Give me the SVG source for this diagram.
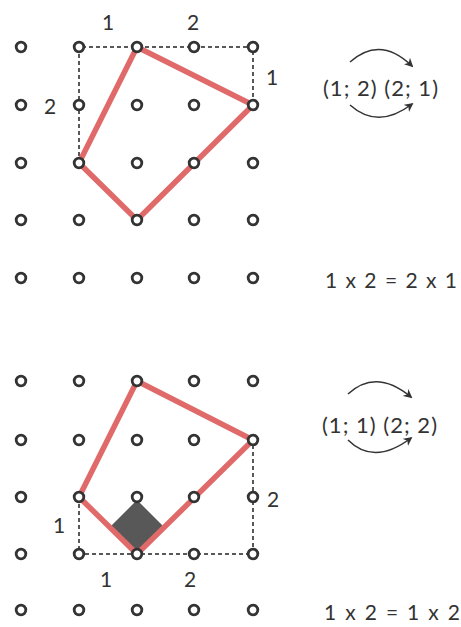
<svg xmlns="http://www.w3.org/2000/svg" width="461" height="627" viewBox="0 0 461 627">
<defs>
<style>
.dot{fill:#fff;stroke:#333;stroke-width:2.8}
.poly{fill:none;stroke:#e06a6a;stroke-width:5.5;stroke-linejoin:round;stroke-linecap:round}
.dash{fill:none;stroke:#222;stroke-width:1.5;stroke-dasharray:4 3}
.lbl{font-family:"Lato","Open Sans","Liberation Sans",sans-serif;font-size:21px;fill:#333}
.pair{font-family:"Lato","Open Sans","Liberation Sans",sans-serif;font-size:22px;fill:#333}
.eq{font-family:"Lato","Open Sans","Liberation Sans",sans-serif;font-size:21px;fill:#333}
.arc{fill:none;stroke:#333;stroke-width:1.5}
</style>
<marker id="ah" viewBox="0 0 10 10" refX="8" refY="5" markerWidth="9" markerHeight="9" markerUnits="userSpaceOnUse" orient="auto">
<path d="M0,0 L10,5 L0,10 L3,5 z" fill="#333"/>
</marker>
<circle id="d" r="4.8" class="dot"/>
</defs>
<rect width="461" height="627" fill="#fff"/>

<g id="top-figure">
<g id="top-dashed" class="connectors">
<path class="dash" d="M79,163 V47 H253 V105"/>
</g>
<g id="top-polygon">
<path class="poly" d="M137,47 L253,105 L137,220 L79,163 Z"/>
</g>
<g id="top-grid">
<use href="#d" x="21" y="47"/><use href="#d" x="79" y="47"/><use href="#d" x="137" y="47"/><use href="#d" x="194" y="47"/><use href="#d" x="253" y="47"/>
<use href="#d" x="21" y="105"/><use href="#d" x="79" y="105"/><use href="#d" x="137" y="105"/><use href="#d" x="194" y="105"/><use href="#d" x="253" y="105"/>
<use href="#d" x="21" y="163"/><use href="#d" x="79" y="163"/><use href="#d" x="137" y="163"/><use href="#d" x="194" y="163"/><use href="#d" x="253" y="163"/>
<use href="#d" x="21" y="220"/><use href="#d" x="79" y="220"/><use href="#d" x="137" y="220"/><use href="#d" x="194" y="220"/><use href="#d" x="253" y="220"/>
<use href="#d" x="21" y="278"/><use href="#d" x="79" y="278"/><use href="#d" x="137" y="278"/><use href="#d" x="194" y="278"/><use href="#d" x="253" y="278"/>
</g>
<g id="top-labels" class="lbl">
<text x="108" y="30" text-anchor="middle">1</text>
<text x="193" y="30" text-anchor="middle">2</text>
<text x="272" y="85" text-anchor="middle">1</text>
<text x="50" y="114" text-anchor="middle">2</text>
</g>
</g>

<g id="top-pairs">
<path class="arc" d="M350,62 Q380,35 412,66" marker-end="url(#ah)"/>
<path class="arc" d="M350,105 Q378,130 412,104" marker-end="url(#ah)"/>
<text class="pair" x="323" y="96" textLength="115" lengthAdjust="spacing">(1; 2) (2; 1)</text>
</g>
<g id="top-equation">
<text class="eq" x="325" y="288" textLength="132" lengthAdjust="spacing">1 x 2 = 2 x 1</text>
</g>

<g id="bottom-figure">
<g id="bottom-square">
<path d="M137,500 L163,526 L137,553 L111,526 Z" fill="#585858"/>
</g>
<g id="bottom-dashed" class="connectors">
<path class="dash" d="M79,497 V554 H253 V440"/>
</g>
<g id="bottom-polygon">
<path class="poly" d="M137,381 L253,440 L137,554 L79,497 Z"/>
</g>
<g id="bottom-grid">
<use href="#d" x="21" y="381"/><use href="#d" x="79" y="381"/><use href="#d" x="137" y="381"/><use href="#d" x="194" y="381"/><use href="#d" x="253" y="381"/>
<use href="#d" x="21" y="440"/><use href="#d" x="79" y="440"/><use href="#d" x="137" y="440"/><use href="#d" x="194" y="440"/><use href="#d" x="253" y="440"/>
<use href="#d" x="21" y="497"/><use href="#d" x="79" y="497"/><use href="#d" x="137" y="497"/><use href="#d" x="194" y="497"/><use href="#d" x="253" y="497"/>
<use href="#d" x="21" y="554"/><use href="#d" x="79" y="554"/><use href="#d" x="137" y="554"/><use href="#d" x="194" y="554"/><use href="#d" x="253" y="554"/>
<use href="#d" x="21" y="610"/><use href="#d" x="79" y="610"/><use href="#d" x="137" y="610"/><use href="#d" x="194" y="610"/><use href="#d" x="253" y="610"/>
</g>
<g id="bottom-labels" class="lbl">
<text x="59" y="533" text-anchor="middle">1</text>
<text x="106" y="587" text-anchor="middle">1</text>
<text x="190" y="587" text-anchor="middle">2</text>
<text x="273" y="507" text-anchor="middle">2</text>
</g>
</g>

<g id="bottom-pairs">
<path class="arc" d="M348,394 Q376,368 411,397" marker-end="url(#ah)"/>
<path class="arc" d="M348,440 Q374,466 411,438" marker-end="url(#ah)"/>
<text class="pair" x="322" y="433" textLength="115" lengthAdjust="spacing">(1; 1) (2; 2)</text>
</g>
<g id="bottom-equation">
<text class="eq" x="324" y="620" textLength="136" lengthAdjust="spacing">1 x 2 = 1 x 2</text>
</g>
</svg>
